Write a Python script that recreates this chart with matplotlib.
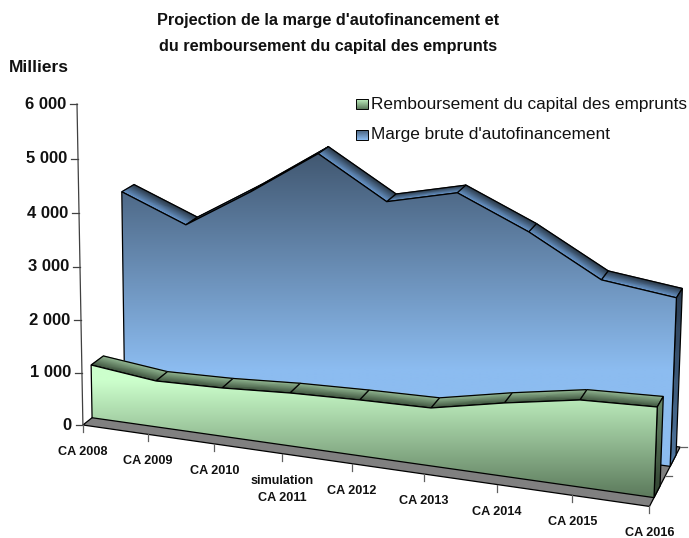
import numpy as np
import matplotlib
matplotlib.use("Agg")
import matplotlib.pyplot as plt
from matplotlib.patches import Polygon
from matplotlib.colors import to_rgb

plt.rcParams['font.family'] = ['Liberation Sans', 'DejaVu Sans']

categories = ['CA 2008', 'CA 2009', 'CA 2010', 'simulation\nCA 2011', 'CA 2012',
              'CA 2013', 'CA 2014', 'CA 2015', 'CA 2016']
remboursement = [1019, 878, 913, 988, 1030, 1056, 1319, 1544, 1593]
marge = [3930, 3420, 4175, 5000, 4235, 4520, 3940, 3215, 3040]
y_ticks = [0, 1000, 2000, 3000, 4000, 5000, 6000]
y_labels = ['0', '1 000', '2 000', '3 000', '4 000', '5 000', '6 000']

# camera fitted on the box of the 3d chart: (category, value/1000, depth) -> pixel
anchors = [
    ((0, 0, 0), (83, 425)), ((1, 0, 0), (148, 434)), ((2, 0, 0), (214, 445)),
    ((3, 0, 0), (282, 454)), ((6, 0, 0), (497, 485)), ((7, 0, 0), (572, 495)),
    ((8, 0, 0), (650, 505)), ((8, 0, 1), (680, 448)), ((0, 0, 1), (145, 375)),
    ((0, 1, 0), (82, 373)), ((0, 2, 0), (81, 320)), ((0, 3, 0), (80, 267)),
    ((0, 4, 0), (79, 213)), ((0, 5, 0), (78, 159)), ((0, 6, 0), (77, 104)),
]
A, b = [], []
for (X, Y, Z), (u, v) in anchors:
    A.append([X, Y, Z, 1, 0, 0, 0, 0, -u * X, -u * Y, -u * Z])
    A.append([0, 0, 0, 0, X, Y, Z, 1, -v * X, -v * Y, -v * Z])
    b += [u, v]
cam = np.append(np.linalg.lstsq(np.array(A, float), np.array(b, float), rcond=None)[0], 1).reshape(3, 4)


def project(i, value, z):
    p = cam @ np.array([i, value / 1000, z, 1.0])
    return p[0] / p[2], p[1] / p[2]


def grad_poly(ax, pts, top, bottom, zorder, y0=None, y1=None, lw=0.9):
    pts = np.array(pts)
    y0 = pts[:, 1].min() if y0 is None else y0
    y1 = pts[:, 1].max() if y1 is None else y1
    ys = np.linspace(pts[:, 1].min(), pts[:, 1].max() + 0.01, 128)
    t = np.clip((ys - y0) / (y1 - y0), 0, 1)[:, None]
    rows = np.array(to_rgb(top)) * (1 - t) + np.array(to_rgb(bottom)) * t
    patch = Polygon(pts, closed=True, fc='none', ec='black', lw=lw, zorder=zorder + 0.1)
    ax.add_patch(patch)
    im = ax.imshow(rows[:, None, :], extent=(pts[:, 0].min(), pts[:, 0].max(), ys[-1], ys[0]),
                   aspect='auto', zorder=zorder, interpolation='bilinear')
    clip = Polygon(pts, closed=True, transform=ax.transData)
    im.set_clip_path(clip)


def shaded_quad(ax, back_a, back_b, front_a, front_b, back_col, front_col, zorder):
    # colour runs from the back edge to the front edge of the quad
    xs = np.array([[back_a[0], back_b[0]], [front_a[0], front_b[0]]])
    ys = np.array([[back_a[1], back_b[1]], [front_a[1], front_b[1]]])
    cols = np.array([[to_rgb(back_col)] * 2, [to_rgb(front_col)] * 2])
    ax.pcolormesh(xs, ys, cols, shading='gouraud', zorder=zorder)
    ax.add_patch(Polygon([back_a, back_b, front_b, front_a], closed=True, fc='none', ec='black',
                         lw=0.9, zorder=zorder + 0.005))


def draw_series(ax, values, z_front, z_back, face, band, side, face_range, zorder):
    n = len(values)
    idx = range(n)
    # top bands first, the front face hides what is behind it
    for i in range(n - 1):
        shaded_quad(ax, project(i, values[i], z_back), project(i + 1, values[i + 1], z_back),
                    project(i, values[i], z_front), project(i + 1, values[i + 1], z_front),
                    band[0], band[1], zorder + i * 0.01)
    last = n - 1
    grad_poly(ax, [project(last, values[last], z_front), project(last, values[last], z_back),
                   project(last, 0, z_back), project(last, 0, z_front)],
              side[0], side[1], zorder + 0.2)
    outline = [project(i, values[i], z_front) for i in idx] + \
              [project(last, 0, z_front), project(0, 0, z_front)]
    grad_poly(ax, outline, face[0], face[1], zorder + 0.4, face_range[0], face_range[1])


fig = plt.figure(figsize=(6.89, 5.38), dpi=100)
ax = fig.add_axes([0, 0, 1, 1])

# floor
floor = [project(0, 0, 0), project(8, 0, 0), project(8, 0, 1), project(0, 0, 1)]
ax.add_patch(Polygon(floor, closed=True, fc='#808080', ec='black', lw=0.9, zorder=1))

draw_series(ax, marge, 0.66, 0.86, ('#40566f', '#8cbcf0'), ('#263340', '#6f9fd6'),
            ('#2a3b50', '#4f76a0'), (150, 370), 2)
draw_series(ax, remboursement, 0.14, 0.33, ('#ccffcc', '#5c7a5c'), ('#96bc96', '#384c38'),
            ('#6a8a6a', '#2f402f'), (380, 497), 4)

# value axis
p0, p1 = project(0, 0, 0), project(0, 6000, 0)
ax.plot([p0[0], p1[0]], [p0[1], p1[1]], color='#404040', lw=0.9, zorder=6)
for val, lab in zip(y_ticks, y_labels):
    x, y = project(0, val, 0)
    ax.plot([x - 7, x], [y, y], color='#404040', lw=0.9, zorder=6)
    ax.text(x - 11, y, lab, ha='right', va='center', fontsize=12, fontweight='bold', color='#111111')

# category axis
for i, lab in enumerate(categories):
    x, y = project(i, 0, 0)
    ax.plot([x, x], [y, y + 7], color='#606060', lw=0.9, zorder=6)
    ty = y + 27 if '\n' not in lab else y + 36
    ax.text(x, ty, lab, ha='center', va='center', fontsize=9.1, fontweight='bold',
            color='#111111', linespacing=1.6)

# depth axis ticks
for z in (0.5, 1):
    x, y = project(8, 0, z)
    ax.plot([x, x + 7], [y, y], color='#606060', lw=0.9, zorder=1)

# title and legend
ax.text(328, 33.5, "Projection de la marge d'autofinancement et\ndu remboursement du capital des emprunts",
        ha='center', va='center', fontsize=11.7, fontweight='bold', color='#111111', linespacing=1.95)
ax.text(9, 67, 'Milliers', ha='left', va='center', fontsize=12.5, fontweight='bold', color='#111111')
grad_poly(ax, [(355.5, 98.5), (367.5, 98.5), (367.5, 109), (355.5, 109)], '#ccffcc', '#5c7a5c', 7, lw=0.7)
grad_poly(ax, [(355.5, 130), (367.5, 130), (367.5, 140), (355.5, 140)], '#40566f', '#8cbcf0', 7, lw=0.7)
ax.text(371, 104, 'Remboursement du capital des emprunts', ha='left', va='center', fontsize=12.4, color='#111111')
ax.text(371, 134, "Marge brute d'autofinancement", ha='left', va='center', fontsize=12.4, color='#111111')

ax.set_xlim(0, 689)
ax.set_ylim(538, 0)
ax.axis('off')
fig.savefig('out.png', dpi=100)
